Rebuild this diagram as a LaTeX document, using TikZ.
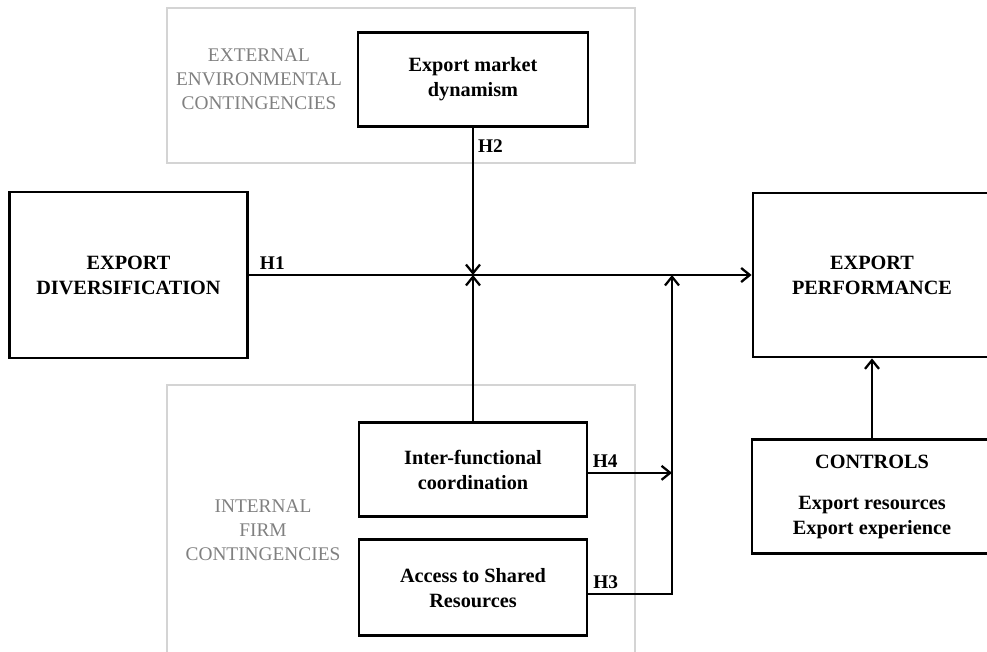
\documentclass[tikz,border=0pt]{standalone}
\usepackage{fontspec}
\setmainfont{Liberation Serif}
\usetikzlibrary{arrows.meta,positioning}

\tikzset{
  box/.style={draw, line width=2.1pt, align=center, inner sep=0pt,
    font=\bfseries\fontsize{15.2}{18.75}\selectfont},
  zone/.style={draw=black!17, line width=0.8pt},
  zonelab/.style={align=center, text=black!50,
    font=\fontsize{14.5}{18}\selectfont},
  hlab/.style={inner sep=3pt, font=\bfseries\fontsize{14.5}{17}\selectfont},
  link/.style={line width=1.7pt,
    -{Straight Barb[length=6.5pt,width=10.5pt]}}
}

\begin{document}
\begin{tikzpicture}[x=0.75pt,y=-0.75pt]
  \useasboundingbox (0,0) rectangle (987,652);

  % contingency zones
  \draw[zone] (167,8) rectangle (635,163);
  \draw[zone] (167,385) rectangle (635,670);
  \node[zonelab] (ext) at (259,79) {EXTERNAL\\ENVIRONMENTAL\\CONTINGENCIES};
  \node[zonelab] (int) at (263,530) {INTERNAL\\FIRM\\CONTINGENCIES};

  \node[box, minimum width=179pt, minimum height=124.5pt] (div) at (128.5,275) {EXPORT\\DIVERSIFICATION};
  \node[box, minimum width=172.5pt, minimum height=71pt] (mkt) at (473,79.5) {Export market\\dynamism};
  \node[box, minimum width=171pt, minimum height=71pt] (ifc) at (473,469.5) {Inter-functional\\coordination};
  \node[box, minimum width=171pt, minimum height=72pt, below=15pt of ifc] (asr) {Access to Shared\\Resources};
  \node[box, minimum width=178.5pt, minimum height=123pt] (perf) at (872,275) {EXPORT\\PERFORMANCE};
  \node[box, minimum width=180pt, minimum height=86pt] (ctrl) at (872,496.5) {CONTROLS\\[12pt]Export resources\\Export experience};

  \coordinate (jn) at (mkt.south |- div.east);
  \coordinate (vx) at (672,275);

  \draw[link] (div.east) -- node[hlab, pos=0.046, above] {H1} (perf.west);
  \draw[link] (mkt.south) -- node[hlab, pos=0.12, right] {H2} (jn);
  \draw[link] (ifc.north) -- (jn);
  \draw[link] ([yshift=-2.5pt]ifc.east) -- node[hlab, pos=0.2, above] {H4} ([yshift=-2.5pt]ifc.east -| vx);
  \draw[link] ([yshift=-4.5pt]asr.east) -| node[hlab, pos=0.104, above] {H3} (vx);
  \draw[link] (ctrl.north) -- (perf.south);
\end{tikzpicture}
\end{document}
